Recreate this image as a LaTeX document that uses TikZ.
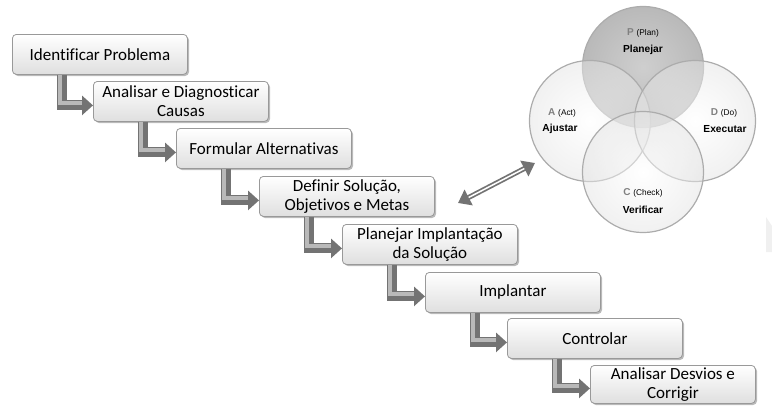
\documentclass[tikz,border=0pt]{standalone}
\usepackage{fontspec}
\setmainfont{Carlito}[Ligatures=CommonOff]
\newfontfamily\arialfont{Liberation Sans}
\usetikzlibrary{arrows.meta,shadows,calc}

\tikzset{
  stepbox/.style={
    anchor=north west, rounded corners=4pt,
    minimum width=175pt, minimum height=40pt, inner sep=1pt,
    align=center, font=\fontsize{17}{19}\selectfont,
    draw=gray!80, line width=0.8pt,
    top color=white, bottom color=gray!25,
    drop shadow={shadow xshift=1.6pt, shadow yshift=-1.6pt, opacity=0.45, fill=gray!80!black}
  },
  elbow/.style={
    draw=black!55, line width=10pt,
    -{Triangle[length=11pt,width=19pt]}
  },
  elbowlight/.style={
    draw=gray!55, line width=4pt, shorten >=11pt
  },
  pdcacircle/.style={
    circle, minimum size=121pt, inner sep=0pt,
    draw=gray!65, line width=1.2pt
  },
  cycletitle/.style={font=\arialfont\bfseries\fontsize{10.2}{12}\selectfont},
}
% letter + translation heading inside each circle
\newcommand{\pdcahead}[2]{\arialfont\fontsize{10}{12}\selectfont\textbf{\textcolor{black!50}{#1}} \fontsize{8.3}{10}\selectfont(#2)}

\begin{document}
\begin{tikzpicture}[x=1pt,y=-1pt]
\useasboundingbox (0,0) rectangle (772,405);

% faint sliver at the right border
\fill[gray!12] (766,217) -- (772,226) -- (772,252) -- (766,252) -- cycle;

% ---- staircase of steps ----
\node[stepbox] (b1) at (12,34)  {Identificar Problema};
\node[stepbox] (b2) at (93,81)  {Analisar e Diagnosticar\\Causas};
\node[stepbox] (b3) at (176,128) {Formular Alternativas};
\node[stepbox] (b4) at (259,176) {Definir Solução,\\Objetivos e Metas};
\node[stepbox] (b5) at (342,224) {Planejar Implantação\\da Solução};
\node[stepbox] (b6) at (425,272) {Implantar};
\node[stepbox] (b7) at (507,318) {Controlar};
\node[stepbox, minimum width=165pt, minimum height=38pt] (b8) at (590,365) {Analisar Desvios e\\Corrigir};

% ---- elbow arrows between consecutive steps ----
\foreach \a/\b in {b1/b2,b2/b3,b3/b4,b4/b5,b5/b6,b6/b7,b7/b8}{
  \draw[elbow] ([xshift=50pt]\a.south west) |- ([yshift=-4pt]\b.west);
  \draw[elbowlight] ([xshift=48pt]\a.south west) |- ([yshift=-2pt]\b.west);
}

% ---- PDCA cycle ----
\node[pdcacircle, inner color=gray!38, outer color=gray!55] (P) at (643,67) {};
\node[pdcacircle, inner color=white, outer color=gray!22, fill opacity=0.5] (A) at (590,121) {};
\node[pdcacircle, inner color=white, outer color=gray!22, fill opacity=0.5] (D) at (695,121) {};
\node[pdcacircle, inner color=white, outer color=gray!22, fill opacity=0.5] (C) at (643,172) {};

\node (pl) at (643,33) {\pdcahead{P}{Plan}};
\node[cycletitle] (pt) at (643,50) {Planejar};
\node (al) at (562,113) {\pdcahead{A}{Act}};
\node[cycletitle] (at) at (560,129) {Ajustar};
\node (dl) at (724,113) {\pdcahead{D}{Do}};
\node[cycletitle] (dt) at (725,129) {Executar};
\node (cl) at (643,193) {\pdcahead{C}{Check}};
\node[cycletitle] (ct) at (643,210) {Verificar};

% ---- two-way link between the steps and the cycle ----
\coordinate (dL) at (458,203);
\coordinate (dR) at (535,163);
\draw[black!55, line width=5pt, {Triangle[length=12pt,width=17pt]}-{Triangle[length=12pt,width=17pt]}] (dL) -- (dR);
\draw[white, line width=1.5pt, shorten >=12pt, shorten <=12pt] (dL) -- (dR);
\end{tikzpicture}
\end{document}
